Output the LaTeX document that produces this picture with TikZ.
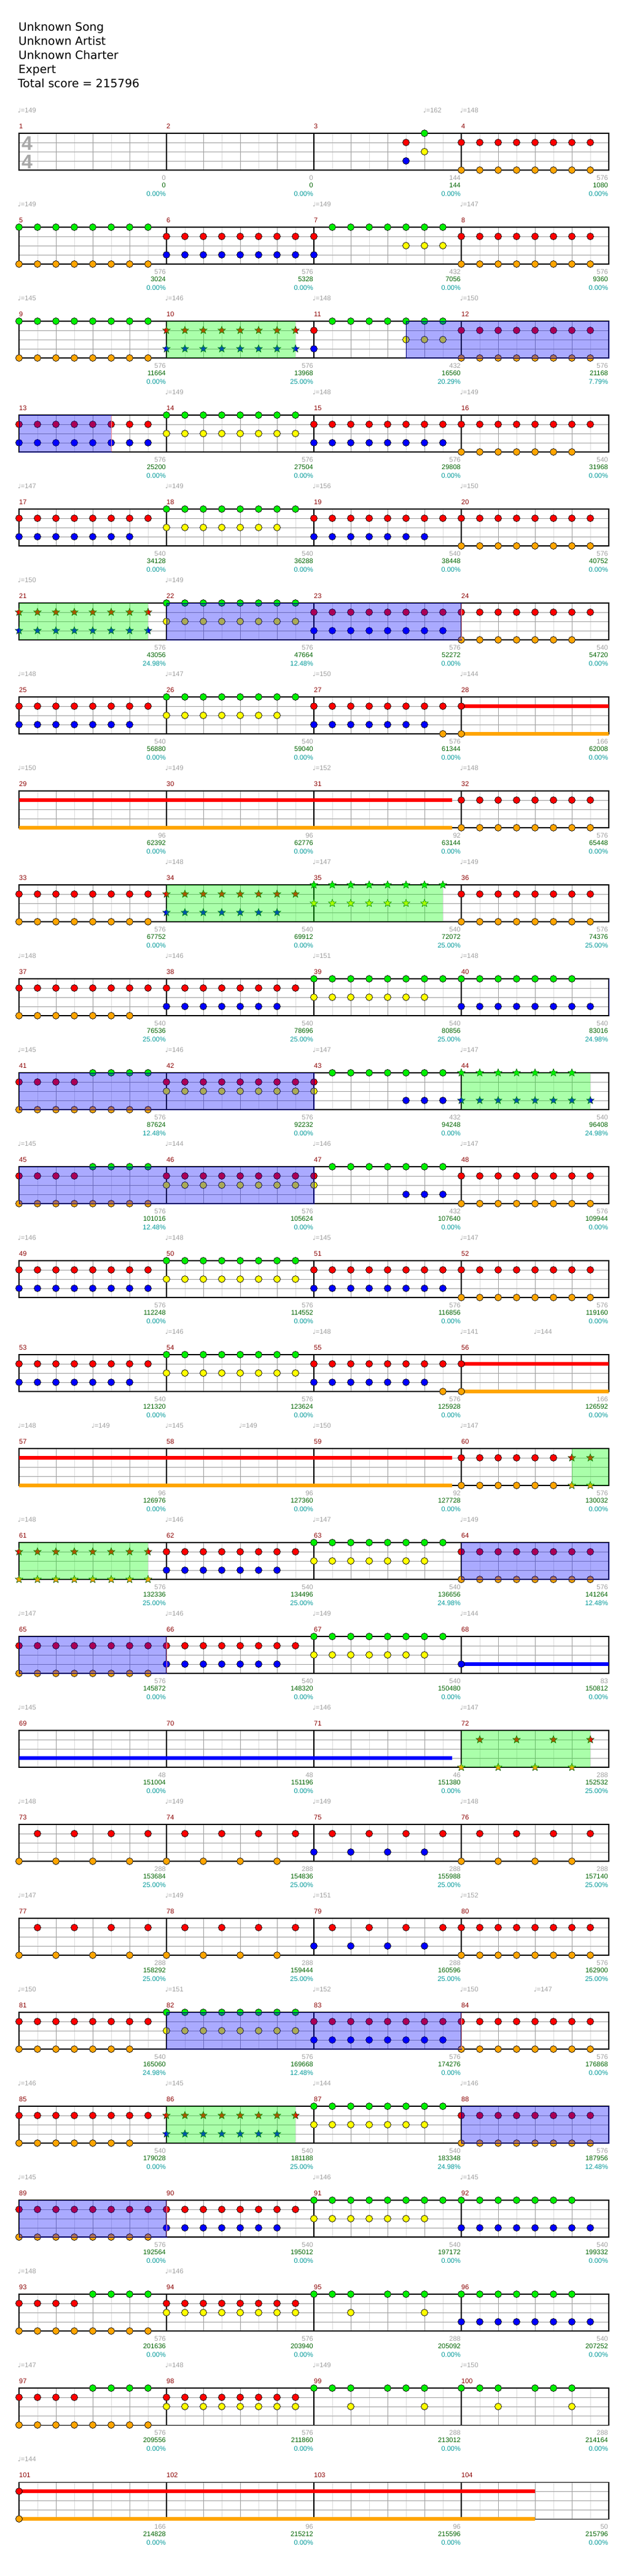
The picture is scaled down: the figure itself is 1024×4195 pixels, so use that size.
\documentclass[tikz,border=0pt]{standalone}
\usepackage{fontspec}
\setmainfont{DejaVu Sans}
\newfontfamily\smf{Liberation Sans}
\newfontfamily\djf{DejaVu Sans}
\usetikzlibrary{shapes.geometric}
\definecolor{lane0}{RGB}{0,240,0}
\definecolor{lane1}{RGB}{255,0,0}
\definecolor{lane2}{RGB}{255,255,0}
\definecolor{lane3}{RGB}{0,0,255}
\definecolor{lane4}{RGB}{255,165,0}
\definecolor{txtgray}{RGB}{160,160,160}
\definecolor{scoregreen}{RGB}{0,100,0}
\definecolor{pctteal}{RGB}{0,153,153}
\definecolor{mnumred}{RGB}{139,0,0}
\definecolor{gridmidc}{RGB}{160,160,160}
\definecolor{gridlightc}{RGB}{220,220,220}
\definecolor{stroutline}{RGB}{0,90,0}
\definecolor{navyc}{RGB}{0,0,128}
\tikzset{
  hdr/.style={anchor=base west,inner sep=0pt,font=\djf\fontsize{18.6}{22}\selectfont,text=black},
  gridlight/.style={draw=gridlightc,line width=0.9pt},
  gridmid/.style={draw=gridmidc,line width=0.9pt},
  barline/.style={draw=black,line width=1.1pt},
  notec/.style={draw=black,line width=0.7pt},
  starn/.style={star,star points=5,star point ratio=2.3,minimum size=13pt,inner sep=0pt,draw=stroutline,line width=0.6pt},
  sus/.style={line width=6pt,line cap=butt},
  spbox/.style={fill={rgb,255:red,0;green,255;blue,0},fill opacity=0.333},
  actbox/.style={fill={rgb,255:red,0;green,0;blue,255},fill opacity=0.333},
  actborder/.style={draw=navyc,line width=0.9pt},
  actend/.style={draw={rgb,255:red,255;green,140;blue,140},line width=0.9pt},
  smalltxt/.style={inner sep=0pt,font=\smf\fontsize{11}{13}\selectfont},
  tempo/.style={smalltxt,anchor=base west,text=txtgray},
  mnum/.style={smalltxt,anchor=base west,text=mnumred},
  gnum/.style={smalltxt,anchor=base east,text=txtgray},
  snum/.style={smalltxt,anchor=base east,text=scoregreen},
  pnum/.style={smalltxt,anchor=base east,text=pctteal},
  timesig/.style={inner sep=0pt,font=\smf\bfseries\fontsize{32}{34}\selectfont,text={rgb,255:red,168;green,168;blue,168}}
}
\newcommand\MX[1]{(31+240*mod(#1-1,4))}
\newcommand\MY[1]{(217+153*int((#1-1)/4))}
\newcommand\nt[3]{\foreach \p in {#3}{\draw[notec,fill=lane#2] ({\MX{#1}+30*\p},{\MY{#1}+15*#2}) circle[radius=5.5pt];}}
\newcommand\st[3]{\foreach \p in {#3}{\node[starn,fill=lane#2] at ({\MX{#1}+30*\p},{\MY{#1}+15*#2}) {};}}
\newcommand\RO[1]{\nt{#1}{1}{0,...,7}\nt{#1}{4}{0,...,7}}
\newcommand\RB[1]{\nt{#1}{1}{0,...,7}\nt{#1}{3}{0,...,7}}
\newcommand\GY[1]{\nt{#1}{0}{0,...,7}\nt{#1}{2}{0,...,7}}
\newcommand\GO[1]{\nt{#1}{0}{0,...,7}\nt{#1}{4}{0,...,7}}
\newcommand\RY[1]{\nt{#1}{1}{0,...,7}\nt{#1}{2}{0,...,7}}
\newcommand\ROs[1]{\nt{#1}{1}{0,...,7}\nt{#1}{4}{0,...,6}}
\newcommand\RBs[1]{\nt{#1}{1}{0,...,7}\nt{#1}{3}{0,...,6}}
\newcommand\GYs[1]{\nt{#1}{0}{0,...,7}\nt{#1}{2}{0,...,6}}
\newcommand\GsB[1]{\nt{#1}{0}{0,...,6}\nt{#1}{3}{0,...,7}}
\newcommand\RGO[1]{\nt{#1}{1}{0,1,2,3}\nt{#1}{0}{4,5,6,7}\nt{#1}{4}{0,...,7}}
\newcommand\XA[1]{\nt{#1}{1}{0}\nt{#1}{3}{0}\nt{#1}{0}{1,...,7}\nt{#1}{2}{5,6,7}}
\newcommand\XB[1]{\nt{#1}{1}{0}\nt{#1}{2}{0}\nt{#1}{0}{1,...,7}\nt{#1}{3}{5,6,7}}
\newcommand\ALT[2]{\nt{#1}{#2}{0,2,4,6}\nt{#1}{1}{1,3,5,7}}
\newcommand\GYp[1]{\nt{#1}{0}{0,1,2,4,5,6}\nt{#1}{2}{2,6}}
\newcommand\rowT[1]{(217+153*#1)}
\begin{document}
\begin{tikzpicture}[x=1pt,y=-1pt]
\useasboundingbox (0,0) rectangle (1024,4195);
\fill[white] (0,0) rectangle (1024,4195);
% header
\node[hdr] (h1) at (30,50) {Unknown Song};
\node[hdr] (h2) at (30,73) {Unknown Artist};
\node[hdr] (h3) at (30,96) {Unknown Charter};
\node[hdr] (h4) at (30,119) {Expert};
\node[hdr] (h5) at (29,142) {Total score = 215796};
% grid
\foreach \k in {0,...,25}{
  \pgfmathsetmacro\T{217+153*\k}
  \foreach \i in {1,3,...,31}{\draw[gridlight] ({31+30*\i},\T) -- ({31+30*\i},{\T+60});}
  \foreach \i in {2,4,6,10,12,14,18,20,22,26,28,30}{\draw[gridmid] ({31+30*\i},\T) -- ({31+30*\i},{\T+60});}
  \foreach \j in {1,2,3}{\draw[gridmid] (31,{\T+15*\j}) -- (991,{\T+15*\j});}
  \foreach \i in {8,16,24}{\draw[barline] ({31+30*\i},\T) -- ({31+30*\i},{\T+60});}
  \draw[barline] (31,\T) rectangle (991,{\T+60});
}
% time signature
\node[timesig] (ts1) at (44,233) {4};
\node[timesig] (ts2) at (44,263) {4};
% sustains
\foreach \k/\la/\c/\xa/\xb in {6/1/lane1/751/991, 6/4/lane4/751/991, 7/1/lane1/31/736, 7/4/lane4/31/736,
  13/1/lane1/751/991, 13/4/lane4/751/991, 14/1/lane1/31/736, 14/4/lane4/31/736,
  16/3/lane3/751/991, 17/3/lane3/31/736, 25/1/lane1/31/871, 25/4/lane4/31/871}{
  \draw[sus,draw=\c] (\xa,{217+153*\k+15*\la}) -- (\xb,{217+153*\k+15*\la});
}
% notes
\nt{3}{1}{5}\nt{3}{3}{5}\nt{3}{0}{6}\nt{3}{2}{6}
\RO{4}\GO{5}\RB{6}\XA{7}\RO{8}
\GO{9}\st{10}{1}{0,...,7}\st{10}{3}{0,...,7}\XA{11}\RO{12}
\RB{13}\GY{14}\RB{15}\ROs{16}
\RBs{17}\GYs{18}\RBs{19}\RO{20}
\st{21}{1}{0,...,7}\st{21}{3}{0,...,7}\GY{22}\RB{23}\ROs{24}
\RBs{25}\GYs{26}\RBs{27}\nt{27}{4}{7}\nt{28}{1}{0}\nt{28}{4}{0}
\RO{32}
\RO{33}\st{34}{1}{0,...,7}\st{34}{3}{0,...,6}\st{35}{0}{0,...,7}\st{35}{2}{0,...,6}\RO{36}
\ROs{37}\RBs{38}\GYs{39}\GsB{40}
\RGO{41}\RY{42}\XB{43}\st{44}{0}{0,...,6}\st{44}{3}{0,...,7}
\RGO{45}\RY{46}\XB{47}\RO{48}
\RB{49}\GY{50}\RB{51}\RO{52}
\RBs{53}\GY{54}\RBs{55}\nt{55}{4}{7}\nt{56}{1}{0}\nt{56}{4}{0}
\nt{60}{1}{0,...,5}\nt{60}{4}{0,...,5}\st{60}{1}{6,7}\st{60}{4}{6,7}
\st{61}{1}{0,...,7}\st{61}{4}{0,...,7}\RBs{62}\GYs{63}\RO{64}
\RO{65}\RBs{66}\GYs{67}\nt{68}{3}{0}
\st{72}{1}{1,3,5,7}\st{72}{4}{0,2,4,6}
\ALT{73}{4}\ALT{74}{4}\ALT{75}{3}\ALT{76}{4}
\ALT{77}{4}\ALT{78}{4}\ALT{79}{3}\RO{80}
\ROs{81}\GY{82}\RB{83}\RO{84}
\ROs{85}\st{86}{1}{0,...,7}\st{86}{3}{0,...,6}\GYs{87}\RO{88}
\RO{89}\RBs{90}\GYs{91}\GsB{92}
\RGO{93}\RY{94}\GYp{95}\GsB{96}
\RGO{97}\RY{98}\GYp{99}\GYp{100}
\nt{101}{1}{0}\nt{101}{4}{0}
% star power phrases
\foreach \k/\xa/\xb in {2/271/481, 5/31/241, 8/271/721, 10/751/961, 14/931/991, 15/31/241, 17/751/961, 21/271/481}{
  \fill[spbox] (\xa,{217+153*\k}) rectangle (\xb,{277+153*\k});
}
% activation overlays
\foreach \k/\xa/\xb in {2/661/991, 3/31/181, 5/271/751, 10/31/511, 11/31/511, 15/751/991, 16/31/271, 20/271/751, 21/751/991, 22/31/271}{
  \fill[actbox] (\xa,{217+153*\k}) rectangle (\xb,{277+153*\k});
  \draw[actborder] (\xa,{217+153*\k}) rectangle (\xb,{277+153*\k});
}
\foreach \k/\xb in {3/181, 5/751, 16/271, 20/751, 22/271}{
  \draw[actend] (\xb,{218+153*\k}) -- (\xb,{276+153*\k});
}
\draw[actborder] (991,{217+153*9}) -- (991,{277+153*9});
% measure numbers
\foreach \m in {1,...,104}{
  \node[mnum] (mn\m) at ({\MX{\m}},{\MY{\m}-7.5}) {\m};
}
% tempos
\foreach \m/\p/\b in {1/0/149, 3/6/162, 4/0/148,
 5/0/149, 7/0/149, 8/0/147,
 9/0/145, 10/0/146, 11/0/148, 12/0/150,
 14/0/149, 15/0/148, 16/0/149,
 17/0/147, 18/0/149, 19/0/156, 20/0/150,
 21/0/150, 22/0/149,
 25/0/148, 26/0/147, 27/0/150, 28/0/144,
 29/0/150, 30/0/149, 31/0/152, 32/0/148,
 34/0/148, 35/0/147, 36/0/149,
 37/0/148, 38/0/146, 39/0/151, 40/0/148,
 41/0/145, 42/0/146, 43/0/147, 44/0/147,
 45/0/145, 46/0/144, 47/0/146, 48/0/147,
 49/0/146, 50/0/148, 51/0/145, 52/0/147,
 54/0/146, 55/0/148, 56/0/141, 56/4/144,
 57/0/148, 57/4/149, 58/0/145, 58/4/149, 59/0/150, 60/0/147,
 61/0/148, 62/0/146, 63/0/147, 64/0/149,
 65/0/147, 66/0/146, 67/0/149, 68/0/144,
 69/0/145, 71/0/146, 72/0/147,
 73/0/148, 74/0/149, 75/0/149, 76/0/148,
 77/0/147, 78/0/149, 79/0/151, 80/0/152,
 81/0/150, 82/0/151, 83/0/152, 84/0/150, 84/4/147,
 85/0/146, 86/0/145, 87/0/144, 88/0/146,
 89/0/145, 91/0/146, 92/0/145,
 93/0/148, 94/0/146,
 97/0/147, 98/0/148, 99/0/149, 100/0/150,
 101/0/144}{
  \node[tempo] (tp\m-\p) at ({\MX{\m}+30*\p-2},{\MY{\m}-33.3}) {{\djf\fontsize{10}{12}\selectfont ♩}=\b};
}
% measure scores
\foreach \m/\g/\s/\q in {1/0/0/0.00, 2/0/0/0.00, 3/144/144/0.00, 4/576/1080/0.00,
 5/576/3024/0.00, 6/576/5328/0.00, 7/432/7056/0.00, 8/576/9360/0.00,
 9/576/11664/0.00, 10/576/13968/25.00, 11/432/16560/20.29, 12/576/21168/7.79,
 13/576/25200/0.00, 14/576/27504/0.00, 15/576/29808/0.00, 16/540/31968/0.00,
 17/540/34128/0.00, 18/540/36288/0.00, 19/540/38448/0.00, 20/576/40752/0.00,
 21/576/43056/24.98, 22/576/47664/12.48, 23/576/52272/0.00, 24/540/54720/0.00,
 25/540/56880/0.00, 26/540/59040/0.00, 27/576/61344/0.00, 28/166/62008/0.00,
 29/96/62392/0.00, 30/96/62776/0.00, 31/92/63144/0.00, 32/576/65448/0.00,
 33/576/67752/0.00, 34/540/69912/0.00, 35/540/72072/25.00, 36/576/74376/25.00,
 37/540/76536/25.00, 38/540/78696/25.00, 39/540/80856/25.00, 40/540/83016/24.98,
 41/576/87624/12.48, 42/576/92232/0.00, 43/432/94248/0.00, 44/540/96408/24.98,
 45/576/101016/12.48, 46/576/105624/0.00, 47/432/107640/0.00, 48/576/109944/0.00,
 49/576/112248/0.00, 50/576/114552/0.00, 51/576/116856/0.00, 52/576/119160/0.00,
 53/540/121320/0.00, 54/576/123624/0.00, 55/576/125928/0.00, 56/166/126592/0.00,
 57/96/126976/0.00, 58/96/127360/0.00, 59/92/127728/0.00, 60/576/130032/0.00,
 61/576/132336/25.00, 62/540/134496/25.00, 63/540/136656/24.98, 64/576/141264/12.48,
 65/576/145872/0.00, 66/540/148320/0.00, 67/540/150480/0.00, 68/83/150812/0.00,
 69/48/151004/0.00, 70/48/151196/0.00, 71/46/151380/0.00, 72/288/152532/25.00,
 73/288/153684/25.00, 74/288/154836/25.00, 75/288/155988/25.00, 76/288/157140/25.00,
 77/288/158292/25.00, 78/288/159444/25.00, 79/288/160596/25.00, 80/576/162900/25.00,
 81/540/165060/24.98, 82/576/169668/12.48, 83/576/174276/0.00, 84/576/176868/0.00,
 85/540/179028/0.00, 86/540/181188/25.00, 87/540/183348/24.98, 88/576/187956/12.48,
 89/576/192564/0.00, 90/540/195012/0.00, 91/540/197172/0.00, 92/540/199332/0.00,
 93/576/201636/0.00, 94/576/203940/0.00, 95/288/205092/0.00, 96/540/207252/0.00,
 97/576/209556/0.00, 98/576/211860/0.00, 99/288/213012/0.00, 100/288/214164/0.00,
 101/166/214828/0.00, 102/96/215212/0.00, 103/96/215596/0.00, 104/50/215796/0.00}{
  \node[gnum] (g\m) at ({\MX{\m}+240-1},{\MY{\m}+76}) {\g};
  \node[snum] (s\m) at ({\MX{\m}+240-1},{\MY{\m}+88.5}) {\s};
  \node[pnum] (q\m) at ({\MX{\m}+240-1},{\MY{\m}+102}) {\q\%};
}
\end{tikzpicture}
\end{document}
